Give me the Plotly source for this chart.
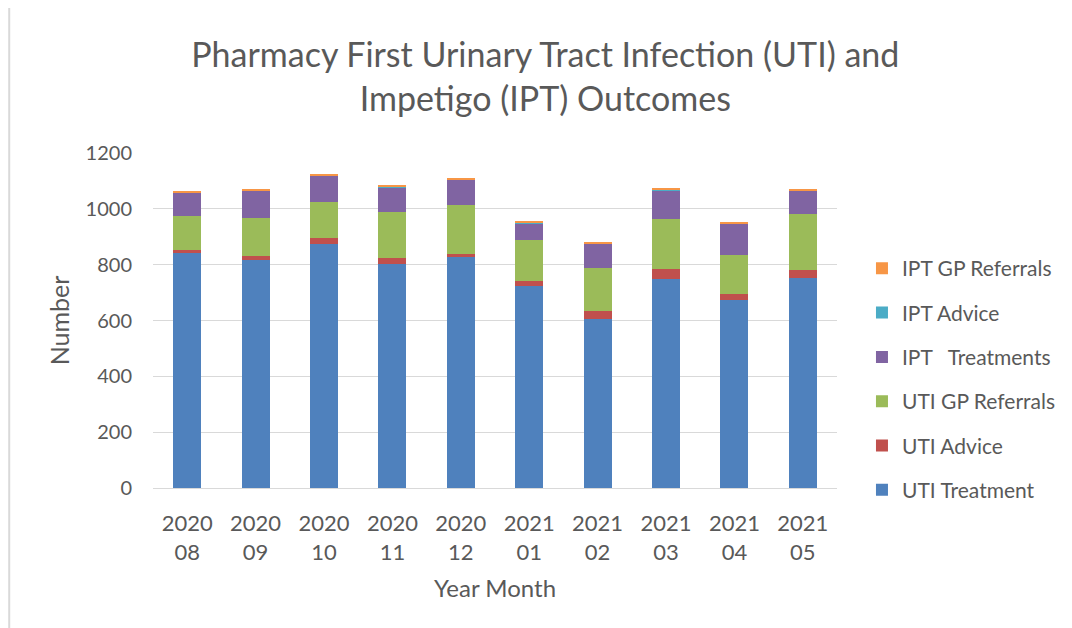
import plotly.graph_objects as go

years = ["2020", "2020", "2020", "2020", "2020", "2021", "2021", "2021", "2021", "2021"]
months = ["08", "09", "10", "11", "12", "01", "02", "03", "04", "05"]

uti_treatment = [842, 817, 873, 802, 828, 724, 604, 749, 673, 753]
uti_advice = [11, 14, 22, 21, 10, 19, 31, 35, 22, 28]
uti_gp_referrals = [123, 135, 130, 166, 176, 145, 154, 179, 140, 202]
ipt_treatments = [82, 100, 93, 88, 90, 60, 86, 101, 113, 83]
ipt_advice = [2, 1, 1, 2, 1, 2, 2, 3, 1, 1]
ipt_gp_referrals = [5, 3, 4, 4, 4, 6, 4, 8, 4, 3]

series = [
    ("UTI Treatment", uti_treatment, "#4F81BD"),
    ("UTI Advice", uti_advice, "#C0504D"),
    ("UTI GP Referrals", uti_gp_referrals, "#9BBB59"),
    ("IPT   Treatments", ipt_treatments, "#8064A2"),
    ("IPT Advice", ipt_advice, "#4BACC6"),
    ("IPT GP Referrals", ipt_gp_referrals, "#F79646"),
]

cats = [f"{y} {m}" for y, m in zip(years, months)]
ticktext = [f"{y}<br>{m}" for y, m in zip(years, months)]

FONT = "Lato, 'Open Sans', sans-serif"
GREY = "#595959"

fig = go.Figure()
n = len(series)
for i, (name, vals, color) in enumerate(series):
    fig.add_trace(go.Bar(
        x=cats, y=vals, name=name, marker_color=color,
        marker_line_width=0, legendgroup=name, legendrank=1000 + (n - i),
    ))

fig.update_layout(
    barmode="stack",
    bargap=0.59,
    width=1064, height=620,
    paper_bgcolor="white", plot_bgcolor="white",
    margin=dict(l=145, r=234, t=145, b=140),
    font=dict(family=FONT, color=GREY),
    title=dict(
        text="Pharmacy First Urinary Tract Infection (UTI) and<br>Impetigo (IPT) Outcomes",
        x=0.505, xanchor="center", xref="container",
        y=0.905, yanchor="top", yref="container",
        font=dict(size=34, color=GREY, family=FONT),
    ),
    xaxis=dict(
        tickmode="array", tickvals=cats, ticktext=ticktext,
        tickfont=dict(size=22, color=GREY), tickangle=0,
        showgrid=False, showline=True, linecolor="#d9d9d9", linewidth=1,
        ticks="", ticklabelstandoff=16,
        title=dict(text="Year Month", font=dict(size=24, color=GREY), standoff=16),
    ),
    yaxis=dict(
        range=[0, 1200], dtick=200, showgrid=True, gridcolor="#d9d9d9", gridwidth=1,
        zeroline=False, tickfont=dict(size=20, color=GREY),
        ticks="", ticklabelstandoff=20,
        title=dict(text="Number", font=dict(size=25, color=GREY), standoff=8),
    ),
    legend=dict(
        x=1.035, xanchor="left", y=0.716, yanchor="top",
        traceorder="grouped", tracegroupgap=14,
        font=dict(size=21, color=GREY),
        itemwidth=30,
    ),
    shapes=[dict(type="line", xref="paper", yref="paper",
                 x0=-0.2102, x1=-0.2102, y0=-0.42, y1=1.46,
                 line=dict(color="#d9d9d9", width=2))],
)

fig.write_html("out.html")
